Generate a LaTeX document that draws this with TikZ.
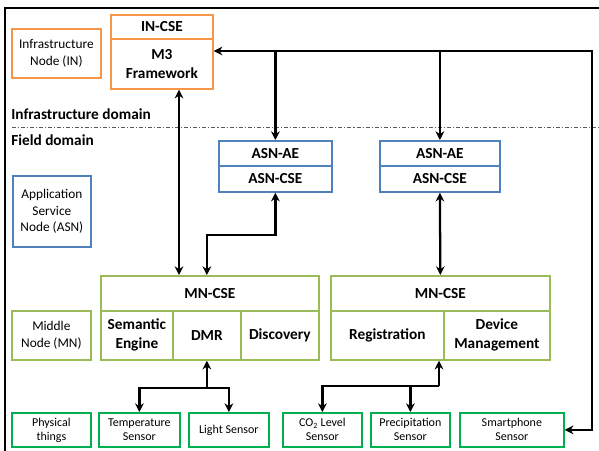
\documentclass[tikz,border=0pt]{standalone}
\usepackage{fontspec}
\setmainfont{Carlito}
\usetikzlibrary{arrows.meta,calc}
\definecolor{inor}{HTML}{F79646}
\definecolor{asnbl}{HTML}{4F81BD}
\definecolor{mngr}{HTML}{9BBB59}
\definecolor{phgr}{HTML}{00B050}
\begin{document}
\begin{tikzpicture}[x=0.75pt,y=-0.75pt,
  wh/.style 2 args={minimum width=#1*0.75pt, minimum height=#2*0.75pt, anchor=north west},
  box/.style={draw, line width=1.3pt, inner sep=0pt, align=center,
    font=\bfseries\fontsize{11.5pt}{14.25pt}\selectfont},
  lbl/.style={draw, line width=1.3pt, inner sep=0pt, align=center,
    font=\fontsize{10pt}{12.5pt}\selectfont},
  sens/.style={draw=phgr, line width=1.3pt, inner sep=0pt, align=center,
    font=\fontsize{9pt}{10.5pt}\selectfont},
  dom/.style={anchor=west, inner sep=0pt, font=\bfseries\fontsize{11.5pt}{14pt}\selectfont},
  conn/.style={line width=1.7pt, -{Stealth[length=6.5pt,width=6.5pt]}},
  biconn/.style={line width=1.7pt, {Stealth[length=6.5pt,width=6.5pt]}-{Stealth[length=6.5pt,width=6.5pt]}}
]
\useasboundingbox (0,0) rectangle (599,450);
% outer frame
\draw[line width=2.2pt] (5,452) -- (5,8) -- (601,8);
% domain separator
\draw[gray!70!black, line width=0.7pt, dash pattern=on 3pt off 1.5pt on 0.8pt off 1.5pt] (12,127) -- (599,127);
\node[dom] (infdom) at (11,114) {Infrastructure domain};
\node[dom] (fielddom) at (11,140) {Field domain};

% Infrastructure node
\node[lbl, draw=inor, wh={89}{49}] (inlabel) at (11,28) {Infrastructure\\Node (IN)};
\node[box, draw=inor, wh={102}{24}] (incse) at (110,14) {IN-CSE};
\node[box, draw=inor, wh={102}{50}] (m3) at (110,38) {M3\\Framework};

% ASN
\node[lbl, draw=asnbl, wh={78}{71}] (asnlabel) at (12,175) {Application\\Service\\Node (ASN)};
\node[box, draw=asnbl, wh={113}{25}] (asnae1) at (218,140) {ASN-AE};
\node[box, draw=asnbl, wh={113}{26}] (asncse1) at (218,165) {ASN-CSE};
\node[box, draw=asnbl, wh={120}{25}] (asnae2) at (379,140) {ASN-AE};
\node[box, draw=asnbl, wh={120}{26}] (asncse2) at (379,165) {ASN-CSE};

% MN
\node[lbl, draw=mngr, wh={79}{49}] (mnlabel) at (11,310) {Middle\\Node (MN)};
\node[box, draw=mngr, wh={218}{35}] (mn1) at (100,275) {MN-CSE};
\node[box, draw=mngr, wh={72}{49}] (sem) at (100,310) {Semantic\\Engine};
\node[box, draw=mngr, wh={68}{49}] (dmr) at (172,310) {DMR};
\node[box, draw=mngr, wh={78}{49}] (disc) at (240,310) {Discovery};
\node[box, draw=mngr, wh={219}{35}] (mn2) at (330,275) {MN-CSE};
\node[box, draw=mngr, wh={113}{49}] (reg) at (330,310) {Registration};
\node[box, draw=mngr, wh={106}{49}] (dev) at (443,310) {Device\\Management};

% Physical things
\node[sens, wh={79}{34}] (phys) at (11,412) {Physical\\things};
\node[sens, wh={81}{34}] (temp) at (98,412) {Temperature\\Sensor};
\node[sens, wh={80}{34}] (light) at (188,412) {Light Sensor};
\node[sens, wh={79}{34}] (co2) at (282,412) {CO\textsubscript{2} Level\\Sensor};
\node[sens, wh={79}{34}] (prec) at (370,412) {Precipitation\\Sensor};
\node[sens, wh={104}{34}] (smart) at (459,412) {Smartphone\\Sensor};

% connectors
\coordinate (bus) at (592,51);
\coordinate (v1) at (179,0);
\coordinate (v2) at (439,0);
\draw[biconn] (m3.east |- bus) -- (bus) |- (smart.east);
\draw[conn] (asnae1.north |- bus) -- (asnae1.north);
\draw[conn] (asnae2.north |- bus) -- (asnae2.north);
\draw[biconn] (m3.south -| v1) -- (mn1.north -| v1);
\draw[biconn] (asncse1.south) -- ++(0,42) -| (mn1.north -| dmr.north);
\draw[biconn] (asncse2.south) -- (mn2.north);
% DMR to sensors
\coordinate (j1) at ($(dmr.south)+(0,27)$);
\draw[conn] (j1) -- (dmr.south);
\draw[conn] (j1) -| (temp.north);
\draw[conn] (j1) -| (light.north);
% Registration to sensors
\coordinate (j2) at (439,386);
\draw[conn] (j2) -- (reg.south -| v2);
\draw[conn] (j2) -| (co2.north);
\draw[conn] (j2) -| (prec.north);
\end{tikzpicture}
\end{document}
